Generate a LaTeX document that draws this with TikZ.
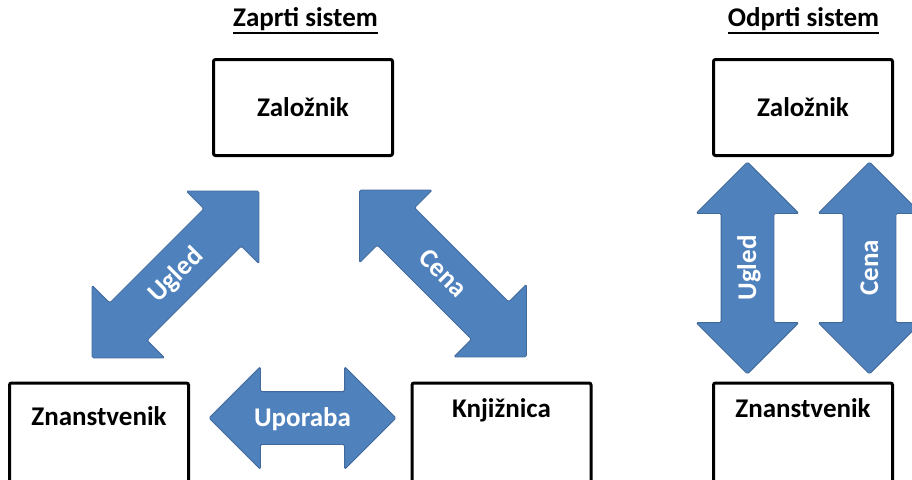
\documentclass[tikz,border=0pt]{standalone}
\usepackage{fontspec}
\setmainfont{Carlito}
\usetikzlibrary{shapes.arrows}
\definecolor{arrowblue}{HTML}{4F81BD}
\definecolor{arrowedge}{HTML}{41699A}
\newcommand\diagfont{\fontsize{27}{32}\selectfont\bfseries}
\begin{document}
\begin{tikzpicture}[x=1pt,y=-1pt,
  box/.style={draw, line width=3pt, rounded corners=2pt, minimum width=179pt,
    minimum height=96pt, inner sep=0pt, font=\diagfont},
  lowbox/.style={box, anchor=north, minimum height=130pt, text height=18pt, text depth=#1},
  heading/.style={inner sep=0pt, anchor=base, text depth=6pt, font=\diagfont},
  fatarrow/.style={double arrow, double arrow head extend=25pt, double arrow tip angle=90,
    minimum height=#1, inner xsep=0pt, inner ysep=17.5pt, text height=17pt, text depth=0pt,
    fill=arrowblue, draw=arrowedge, line width=0.8pt, rounded corners=1.5pt,
    text=white, font=\diagfont}]
\useasboundingbox (0,0) rectangle (912,479);
\clip (0,0) rectangle (912,479);

% zaprti sistem
\node[heading] (zt) at (305.5,27) {Zaprti sistem};
\draw[line width=1.5pt] (zt.south west) -- (zt.south east);
\node[box] (zal) at (303,107.5) {Založnik};
\node[lowbox=64pt] (zn) at (99,381.5) {Znanstvenik};
\node[lowbox=79pt] (knj) at (501.5,381.5) {Knjižnica};
\node[fatarrow=236pt, rotate=45] (ugled) at (175.5,274.5) {Ugled};
\node[fatarrow=236pt, rotate=-45] (cena) at (443,273.5) {Cena};
\node[fatarrow=187pt] (upo) at (302.5,418) {Uporaba};

% odprti sistem
\node[heading] (ot) at (803.5,27) {Odprti sistem};
\draw[line width=1.5pt] (ot.south west) -- (ot.south east);
\node[box] (zal2) at (803,107.5) {Založnik};
\node[lowbox=79pt] (zn2) at (803,381.5) {Znanstvenik};
\node[fatarrow=212pt, rotate=90] (ugled2) at (747.5,268) {Ugled};
\node[fatarrow=212pt, rotate=90] (cena2) at (869.5,268) {Cena};
\end{tikzpicture}
\end{document}
